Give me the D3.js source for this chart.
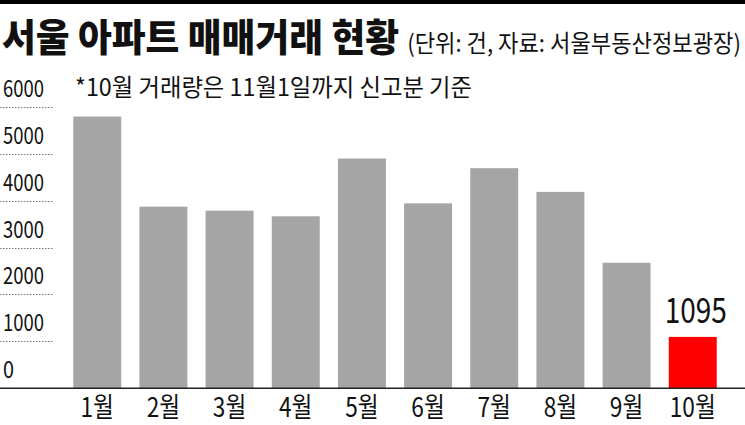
<!DOCTYPE html>
<html><head><meta charset="utf-8">
<script src="https://cdn.jsdelivr.net/npm/d3@7"></script>
<style>
html,body{margin:0;padding:0;background:#fff;}
svg{display:block;}
text{font-family:"Noto Sans CJK KR","Noto Sans",sans-serif;fill:#111;}
</style></head>
<body>
<svg id="chart" width="745" height="425"></svg>
<script>
const months = ["1월","2월","3월","4월","5월","6월","7월","8월","9월","10월"];
const values = [5790, 3870, 3785, 3665, 4895, 3940, 4690, 4185, 2675, 1095];
const yTicks = [0, 1000, 2000, 3000, 4000, 5000, 6000];
const highlightMonth = "10월";
const titleText = "서울 아파트 매매거래 현황";
const subtitleText = "(단위: 건, 자료: 서울부동산정보광장)";
const noteText = "*10월 거래량은 11월1일까지 신고분 기준";

const svg = d3.select("#chart");
const W = 745, H = 425;

// top black rule
svg.append("rect").attr("x",0).attr("y",0).attr("width",W).attr("height",4).attr("fill","#000");

// title
svg.append("text").attr("x",2).attr("y",51)
  .attr("font-size",38).attr("font-weight",900)
  .attr("textLength",397).attr("lengthAdjust","spacingAndGlyphs")
  .text(titleText);
const sub = svg.append("text")
  .attr("text-anchor","end")
  .attr("font-size",24).attr("font-weight",400)
  .text(subtitleText);
const subW = sub.node().getComputedTextLength();
const subScale = Math.min(1, 334 / subW);
sub.attr("transform",`translate(741,52) scale(${subScale},1)`);

svg.append("text").attr("x",75).attr("y",96)
  .attr("font-size",24).attr("font-weight",400)
  .attr("textLength",397).attr("lengthAdjust","spacingAndGlyphs")
  .text(noteText);

const x = d3.scaleBand().domain(months).range([64,726]).paddingInner(0.275).paddingOuter(0.14);
const y = d3.scaleLinear().domain([0,6000]).range([388.3,106.7]);

// y grid (short dotted lines under labels) and labels
const yg = svg.append("g");
yg.selectAll("line").data(yTicks.filter(d=>d>0)).join("line")
  .attr("x1",0).attr("x2",53)
  .attr("y1",d=>Math.round(y(d))+0.5).attr("y2",d=>Math.round(y(d))+0.5)
  .attr("stroke","#777").attr("stroke-width",1).attr("stroke-dasharray","1.5,1.5");
yg.selectAll("text").data(yTicks).join("text")
  .attr("x",3).attr("y",d=>y(d)-10)
  .attr("font-size",23)
  .attr("textLength",d=>d===0?11:41).attr("lengthAdjust","spacingAndGlyphs")
  .text(d=>d);

// bars
svg.append("g").selectAll("rect").data(months).join("rect")
  .attr("x",d=>x(d)).attr("width",x.bandwidth())
  .attr("y",(d,i)=>y(values[i])).attr("height",(d,i)=>y(0)-y(values[i]))
  .attr("fill",d=>d===highlightMonth?"#ff0000":"#a5a5a5");

// baseline
svg.append("line").attr("x1",0).attr("x2",W).attr("y1",y(0)).attr("y2",y(0))
  .attr("stroke","#222").attr("stroke-width",1.6);

// month labels
svg.append("g").selectAll("text").data(months).join("text")
  .attr("transform",d=>`translate(${x(d)+x.bandwidth()/2},417) scale(0.84,1)`)
  .attr("text-anchor","middle").attr("font-size",27)
  .text(d=>d);

// value label for highlighted bar
const hi = months.indexOf(highlightMonth);
svg.append("text")
  .attr("transform",`translate(${x(highlightMonth)+x.bandwidth()/2+3},323) scale(0.8,1)`)
  .attr("text-anchor","middle").attr("font-size",35)
  .text(values[hi]);
</script>
</body></html>
